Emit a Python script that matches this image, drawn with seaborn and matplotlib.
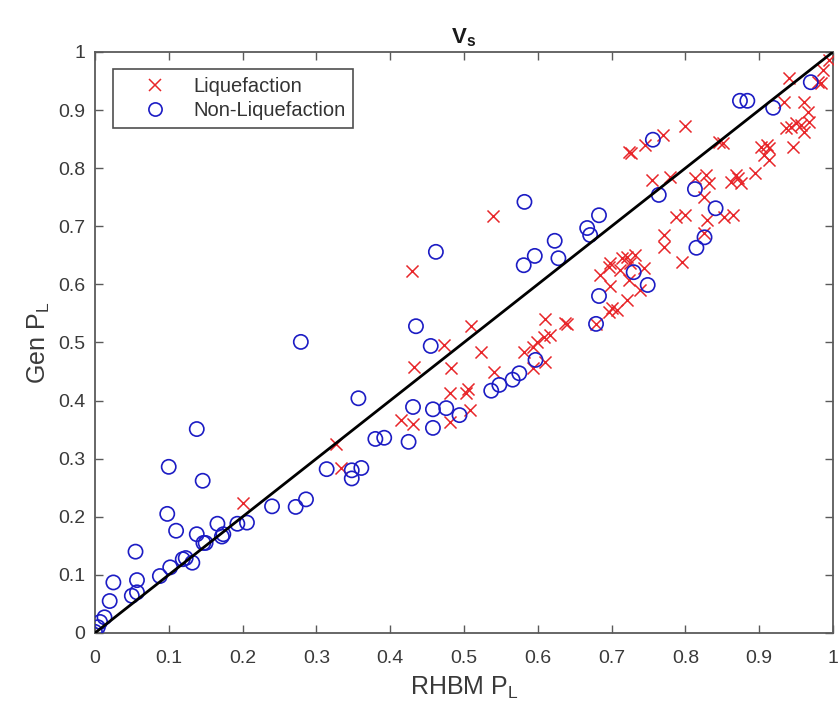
import numpy as np
import pandas as pd
import matplotlib
matplotlib.use("Agg")
import matplotlib.pyplot as plt
import seaborn as sns
from matplotlib.lines import Line2D

# Liquefaction cases (red x)
liq_x = [0.200, 0.326, 0.334, 0.539, 0.429, 0.509, 0.473, 0.433, 0.483, 0.523, 0.541,
         0.481, 0.503, 0.505, 0.508, 0.415, 0.431, 0.481, 0.610, 0.637, 0.581, 0.593,
         0.599, 0.609, 0.616, 0.610, 0.593,
         0.724, 0.727, 0.745, 0.770, 0.799, 0.846, 0.851, 0.941, 0.980, 0.984, 0.986,
         0.995, 0.934, 0.961, 0.966, 0.937, 0.943, 0.950, 0.957, 0.968, 0.961, 0.946,
         0.903, 0.910, 0.914, 0.906, 0.914, 0.894, 0.872, 0.869, 0.876, 0.862, 0.755,
         0.779, 0.813, 0.828, 0.832, 0.825, 0.788, 0.799, 0.829, 0.853, 0.865, 0.771,
         0.825, 0.771, 0.795, 0.685, 0.697, 0.698, 0.714, 0.721, 0.732, 0.725, 0.744,
         0.712, 0.724, 0.698, 0.739, 0.721, 0.701, 0.708, 0.697, 0.679, 0.639]
liq_y = [0.224, 0.325, 0.284, 0.718, 0.623, 0.528, 0.496, 0.458, 0.456, 0.484, 0.449,
         0.413, 0.413, 0.420, 0.384, 0.367, 0.360, 0.363, 0.540, 0.534, 0.484, 0.492,
         0.501, 0.510, 0.513, 0.466, 0.456,
         0.828, 0.826, 0.840, 0.857, 0.873, 0.845, 0.843, 0.955, 0.948, 0.946, 0.969,
         0.986, 0.914, 0.914, 0.897, 0.869, 0.871, 0.877, 0.874, 0.880, 0.862, 0.837,
         0.837, 0.840, 0.835, 0.823, 0.814, 0.792, 0.783, 0.788, 0.775, 0.776, 0.780,
         0.785, 0.783, 0.788, 0.775, 0.750, 0.716, 0.719, 0.711, 0.716, 0.719, 0.685,
         0.688, 0.664, 0.639, 0.616, 0.630, 0.637, 0.645, 0.647, 0.651, 0.637, 0.628,
         0.625, 0.608, 0.597, 0.590, 0.573, 0.559, 0.556, 0.553, 0.532, 0.532]

# Non-liquefaction cases (blue o)
non_x = [0.000, 0.004, 0.007, 0.013, 0.020, 0.025, 0.050, 0.057, 0.057, 0.055, 0.088,
         0.102, 0.098, 0.110, 0.119, 0.123, 0.132, 0.138, 0.138, 0.146, 0.100, 0.147,
         0.150, 0.166, 0.172, 0.174, 0.193, 0.206, 0.240, 0.272, 0.286, 0.314, 0.348,
         0.348, 0.361, 0.357,
         0.582, 0.462, 0.623, 0.596, 0.581, 0.628, 0.435, 0.279, 0.455, 0.431, 0.458,
         0.476, 0.494, 0.458, 0.380, 0.392, 0.425, 0.537, 0.548, 0.566, 0.575, 0.597,
         0.874, 0.884, 0.919, 0.970, 0.756, 0.764, 0.813, 0.841, 0.683, 0.667, 0.671,
         0.826, 0.815, 0.730, 0.749, 0.683, 0.679]
non_y = [0.002, 0.010, 0.019, 0.027, 0.055, 0.087, 0.064, 0.070, 0.091, 0.140, 0.098,
         0.113, 0.205, 0.176, 0.127, 0.129, 0.121, 0.170, 0.351, 0.262, 0.286, 0.155,
         0.155, 0.188, 0.166, 0.170, 0.188, 0.190, 0.218, 0.217, 0.230, 0.282, 0.280,
         0.266, 0.284, 0.404,
         0.742, 0.656, 0.675, 0.649, 0.633, 0.645, 0.528, 0.501, 0.494, 0.389, 0.385,
         0.387, 0.375, 0.353, 0.334, 0.336, 0.329, 0.417, 0.427, 0.436, 0.447, 0.470,
         0.916, 0.916, 0.904, 0.948, 0.849, 0.754, 0.764, 0.731, 0.719, 0.697, 0.685,
         0.681, 0.663, 0.621, 0.599, 0.580, 0.532]

diag = [0, 1]
tick_vals = [0, 0.1, 0.2, 0.3, 0.4, 0.5, 0.6, 0.7, 0.8, 0.9, 1]
tick_labels = ['0', '0.1', '0.2', '0.3', '0.4', '0.5', '0.6', '0.7', '0.8', '0.9', '1']
legend_labels = ['Liquefaction', 'Non-Liquefaction']

sns.set_theme(style="white")
plt.rcParams['font.family'] = ['Liberation Sans', 'DejaVu Sans']
plt.rcParams['mathtext.fontset'] = 'custom'
plt.rcParams['mathtext.rm'] = 'Liberation Sans'
plt.rcParams['mathtext.it'] = 'Liberation Sans'
plt.rcParams['mathtext.bf'] = 'Liberation Sans:bold'

fig = plt.figure(figsize=(8.4, 7.15), dpi=100)
ax = fig.add_axes([0.113, 0.1147, 0.8786, 0.8126])

red = '#e8262a'
blue = '#1c1cc4'

sns.scatterplot(x=liq_x, y=liq_y, ax=ax, marker='x', s=75, color=red,
                linewidth=1.1, zorder=3)
sns.scatterplot(x=non_x, y=non_y, ax=ax, marker='o', s=105, facecolor='none',
                edgecolor=blue, linewidth=1.2, zorder=4)
sns.lineplot(x=diag, y=diag, ax=ax, color='black', linewidth=2.0, zorder=5)

ax.set_xlim(0, 1)
ax.set_ylim(0, 1)
ax.set_xticks(tick_vals)
ax.set_yticks(tick_vals)
ax.set_xticklabels(tick_labels)
ax.set_yticklabels(tick_labels)

axis_col = '#5a5a5a'
for sp in ax.spines.values():
    sp.set_visible(True)
    sp.set_color(axis_col)
    sp.set_linewidth(1.3)
ax.tick_params(axis='both', which='both', direction='in', length=6, width=1,
               color=axis_col, labelcolor='#3a3a3a', labelsize=14,
               top=True, right=True, bottom=True, left=True)
ax.tick_params(axis='x', pad=12)
ax.tick_params(axis='y', pad=7)

ax.set_title(r'$\mathbf{V}_{\mathbf{s}}$', fontsize=16, color='#1a1a1a', pad=6)
ax.set_xlabel(r'RHBM P$_{\mathrm{L}}$', fontsize=18, color='#3a3a3a', labelpad=6)
ax.set_ylabel(r'Gen P$_{\mathrm{L}}$', fontsize=18, color='#3a3a3a', labelpad=4)

handles = [
    Line2D([], [], marker='x', linestyle='none', color=red, markersize=8, markeredgewidth=1.1),
    Line2D([], [], marker='o', linestyle='none', markerfacecolor='none',
           markeredgecolor=blue, markersize=9.5, markeredgewidth=1.2),
]
leg = ax.legend(handles, legend_labels, loc='upper left',
                bbox_to_anchor=(0.024, 0.971), fontsize=14.5, frameon=True, fancybox=False,
                borderpad=0.4, handlelength=3.4, handletextpad=0.2, labelspacing=0.25,
                borderaxespad=0)
leg.get_frame().set_edgecolor('#222222')
leg.get_frame().set_linewidth(1.2)
for t in leg.get_texts():
    t.set_color('#333333')

fig.savefig('out.png', dpi=100)
